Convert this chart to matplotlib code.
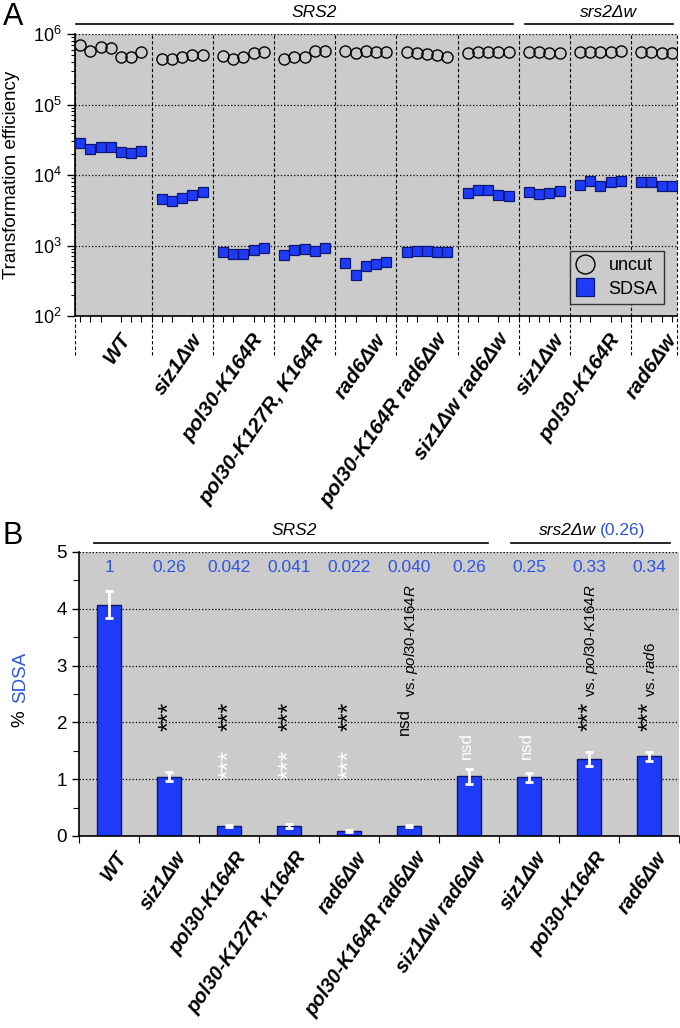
import numpy as np
import matplotlib
matplotlib.use("Agg")
import matplotlib.pyplot as plt
from matplotlib.transforms import blended_transform_factory, ScaledTranslation

plt.rcParams['font.family'] = ['Liberation Sans', 'DejaVu Sans']
plt.rcParams['mathtext.fontset'] = 'custom'
plt.rcParams['mathtext.rm'] = 'Liberation Sans'
plt.rcParams['mathtext.it'] = 'Liberation Sans:italic'
plt.rcParams['mathtext.bf'] = 'Liberation Sans:bold'

strains = ["WT", "siz1Δw", "pol30-K164R", "pol30-K127R, K164R", "rad6Δw",
           "pol30-K164R rad6Δw", "siz1Δw rad6Δw", "siz1Δw", "pol30-K164R", "rad6Δw"]

# panel A: transformation efficiency, one list per strain
uncut = [
    [698e3, 580e3, 660e3, 627e3, 468e3, 477e3, 550e3],
    [447e3, 438e3, 472e3, 508e3, 508e3],
    [492e3, 442e3, 467e3, 532e3, 550e3],
    [442e3, 467e3, 472e3, 569e3, 569e3],
    [580e3, 532e3, 580e3, 550e3, 550e3],
    [561e3, 532e3, 515e3, 499e3, 467e3],
    [545e3, 548e3, 550e3, 552e3, 550e3],
    [561e3, 550e3, 532e3, 532e3],
    [555e3, 555e3, 555e3, 555e3, 570e3],
    [550e3, 550e3, 532e3, 540e3],
]
sdsa = [
    [28700, 23100, 24700, 24700, 21000, 20300, 22100],
    [4520, 4320, 4720, 5150, 5740],
    [809, 757, 765, 863, 931],
    [726, 863, 902, 845, 923],
    [570, 378, 512, 547, 589],
    [800, 835, 835, 800, 800],
    [5610, 6070, 6180, 5260, 5040],
    [5690, 5430, 5560, 5880],
    [7280, 8150, 7050, 8040, 8220],
    [7870, 7870, 7050, 7050],
]

# panel B: % SDSA
pct_sdsa = [4.07, 1.04, 0.177, 0.177, 0.09, 0.17, 1.05, 1.03, 1.36, 1.40]
pct_err = [0.24, 0.08, 0.02, 0.03, 0.02, 0.02, 0.13, 0.08, 0.12, 0.08]
rel_wt = ["1", "0.26", "0.042", "0.041", "0.022", "0.040", "0.26", "0.25", "0.33", "0.34"]

blue = "#1e3cf8"
navy = "#0c1670"
txtblue = "#2f55e0"
grey = "#cbcbcb"

fig = plt.figure(figsize=(6.8, 10.28), dpi=100)

def shift_labels(ax, dx, dy):
    off = ScaledTranslation(dx / 100, dy / 100, fig.dpi_scale_trans)
    for lab in ax.get_xticklabels():
        lab.set_transform(lab.get_transform() + off)

# ---------------- panel A ----------------
axA = fig.add_axes([75/680, 1-316/1028, 602/680, 282/1028])
axA.set_facecolor(grey)
axA.set_yscale('log')
axA.set_ylim(1e2, 1e6)
axA.set_xlim(0.5, 59.5)

centers = []
dividers = [0.5]
pos = 1
for k in range(len(strains)):
    n = len(sdsa[k])
    xs = np.arange(pos, pos + n)
    axA.plot(xs, uncut[k], 'o', ms=8, mfc='none', mec='black', mew=1.0,
             label='uncut' if k == 0 else None, zorder=3)
    axA.plot(xs, sdsa[k], 's', ms=7.5, mfc=blue, mec=navy, mew=0.9,
             label='SDSA' if k == 0 else None, zorder=3)
    centers.append(xs.mean())
    if k < len(strains) - 1:
        dividers.append(pos + n)
    pos += n + 1
dividers.append(59.5)

trA = blended_transform_factory(axA.transData, axA.transAxes)
for d in dividers:
    axA.plot([d, d], [-0.14, 1.0], transform=trA, color='black', ls=(0, (3, 2)),
             lw=0.8, clip_on=False, zorder=2)

axA.yaxis.grid(True, which='major', ls=':', color='black', lw=0.9)
axA.set_axisbelow(True)
for s in ['top', 'right']:
    axA.spines[s].set_visible(False)
axA.spines['left'].set_linewidth(1.2)
axA.spines['bottom'].set_linewidth(1.2)
axA.tick_params(axis='y', which='major', length=6, width=1, labelsize=13, direction='out')
axA.tick_params(axis='y', which='minor', length=3, width=0.8, direction='out')
axA.set_xticks(np.arange(1, 60), minor=True)
axA.set_xticks(centers)
axA.set_xticklabels(strains, rotation=55, ha='right', rotation_mode='anchor',
                    fontsize=15, fontweight='bold', fontstyle='italic')
axA.tick_params(axis='x', which='major', length=0, pad=8)
axA.tick_params(axis='x', which='minor', length=4, width=0.8, direction='out')
shift_labels(axA, 8, -3)

axA.text(-0.105, 0.5, "Transformation efficiency", transform=axA.transAxes,
         rotation=90, ha='center', va='center', fontsize=13.5)

leg = axA.legend(loc='lower right', bbox_to_anchor=(0.978, 0.043), fontsize=13,
                 markerscale=1.7, handlelength=1.0, handletextpad=0.8,
                 borderpad=0.35, labelspacing=0.35, fancybox=False, borderaxespad=0)
leg.get_frame().set_facecolor(grey)
leg.get_frame().set_edgecolor('#333333')
leg.get_frame().set_linewidth(1.0)
leg.get_frame().set_alpha(1)

# group headers
axA.plot([0.6, 43.4], [1.035, 1.035], transform=trA, color='black', lw=1.2, clip_on=False)
axA.plot([44.6, 59.1], [1.035, 1.035], transform=trA, color='black', lw=1.2, clip_on=False)
axA.text(23.9, 1.078, "SRS2", transform=trA, ha='center', va='center',
         fontsize=12.5, fontstyle='italic')
axA.text(52.8, 1.078, "srs2Δw", transform=trA, ha='center', va='center',
         fontsize=12.5, fontstyle='italic')

fig.text(0.004, 1 - 2/1028, "A", ha='left', va='top', fontsize=22)

# ---------------- panel B ----------------
axB = fig.add_axes([79/680, 1-836/1028, 600/680, 284/1028])
axB.set_facecolor(grey)
xb = np.arange(len(strains))
axB.bar(xb, pct_sdsa, width=0.4, color=blue, edgecolor=navy, lw=1, zorder=2)
axB.errorbar(xb, pct_sdsa, yerr=pct_err, fmt='none', ecolor='white', elinewidth=2,
             capsize=3, capthick=2, zorder=3)
axB.set_xlim(-0.5, 9.5)
axB.set_ylim(0, 5)
axB.yaxis.grid(True, which='major', ls=':', color='black', lw=0.9)
axB.set_axisbelow(True)
for s in ['top', 'right']:
    axB.spines[s].set_visible(False)
axB.spines['left'].set_linewidth(1.2)
axB.spines['bottom'].set_linewidth(1.2)
axB.set_yticks(np.arange(0, 6))
axB.set_yticks(np.arange(0.5, 5, 1), minor=True)
axB.tick_params(axis='y', which='major', length=5, width=1, labelsize=13.5)
axB.tick_params(axis='y', which='minor', length=4, width=0.8)
axB.set_xticks(xb)
axB.set_xticks(np.arange(-0.5, 10, 1), minor=True)
axB.set_xticklabels(strains, rotation=55, ha='right', rotation_mode='anchor',
                    fontsize=14.3, fontweight='bold', fontstyle='italic')
axB.tick_params(axis='x', which='major', length=0, pad=9)
axB.tick_params(axis='x', which='minor', length=5, width=0.8)
shift_labels(axB, 6, 0)

# relative-to-WT numbers
trB = blended_transform_factory(axB.transData, axB.transAxes)
for i, t in enumerate(rel_wt):
    axB.text(xb[i], 0.944, t, transform=trB, ha='center', va='center',
             color=txtblue, fontsize=12.5)

# significance marks
for i in [1, 2, 3, 4, 8, 9]:
    axB.text(xb[i], 1.84, "***", rotation=90, ha='center', va='bottom', fontsize=18,
             color='black')
for i in [2, 3, 4]:
    axB.text(xb[i], 1.0, "***", rotation=90, ha='center', va='bottom', fontsize=18,
             color='white')
for i in [6, 7]:
    axB.text(xb[i] - 0.04, 1.36, "nsd", rotation=90, ha='center', va='bottom',
             fontsize=12, color='white')
axB.text(xb[5] - 0.08, 1.78, "nsd", rotation=90, ha='center', va='bottom',
         fontsize=12, color='black')
axB.text(xb[5] + 0.03, 2.45, r"vs. $\mathit{pol30}$-$\mathit{K164R}$", rotation=90,
         ha='center', va='bottom', fontsize=10.8, color='black')
axB.text(xb[8] + 0.03, 2.45, r"vs. $\mathit{pol30}$-$\mathit{K164R}$", rotation=90,
         ha='center', va='bottom', fontsize=10.8, color='black')
axB.text(xb[9] + 0.03, 2.45, r"vs. $\mathit{rad6}$", rotation=90,
         ha='center', va='bottom', fontsize=10.8, color='black')

# ylabel in two colours
axB.text(-0.098, 0.385, "%", transform=axB.transAxes, rotation=90, ha='center',
         va='bottom', fontsize=13.5, color='black')
axB.text(-0.098, 0.47, "SDSA", transform=axB.transAxes, rotation=90, ha='center',
         va='bottom', fontsize=13.5, color=txtblue)

# group headers
axB.plot([-0.25, 6.32], [1.032, 1.032], transform=trB, color='black', lw=1.2, clip_on=False)
axB.plot([6.7, 9.35], [1.032, 1.032], transform=trB, color='black', lw=1.2, clip_on=False)
axB.text(3.08, 1.077, "SRS2", transform=trB, ha='center', va='center',
         fontsize=12.5, fontstyle='italic')
axB.text(8.12, 1.077, "srs2Δw", transform=trB, ha='right', va='center',
         fontsize=12.5, fontstyle='italic')
axB.text(8.18, 1.077, "(0.26)", transform=trB, ha='left', va='center',
         fontsize=12.5, color=txtblue)

fig.text(0.004, 1 - 521/1028, "B", ha='left', va='top', fontsize=22)

fig.savefig("out.png", dpi=100)
